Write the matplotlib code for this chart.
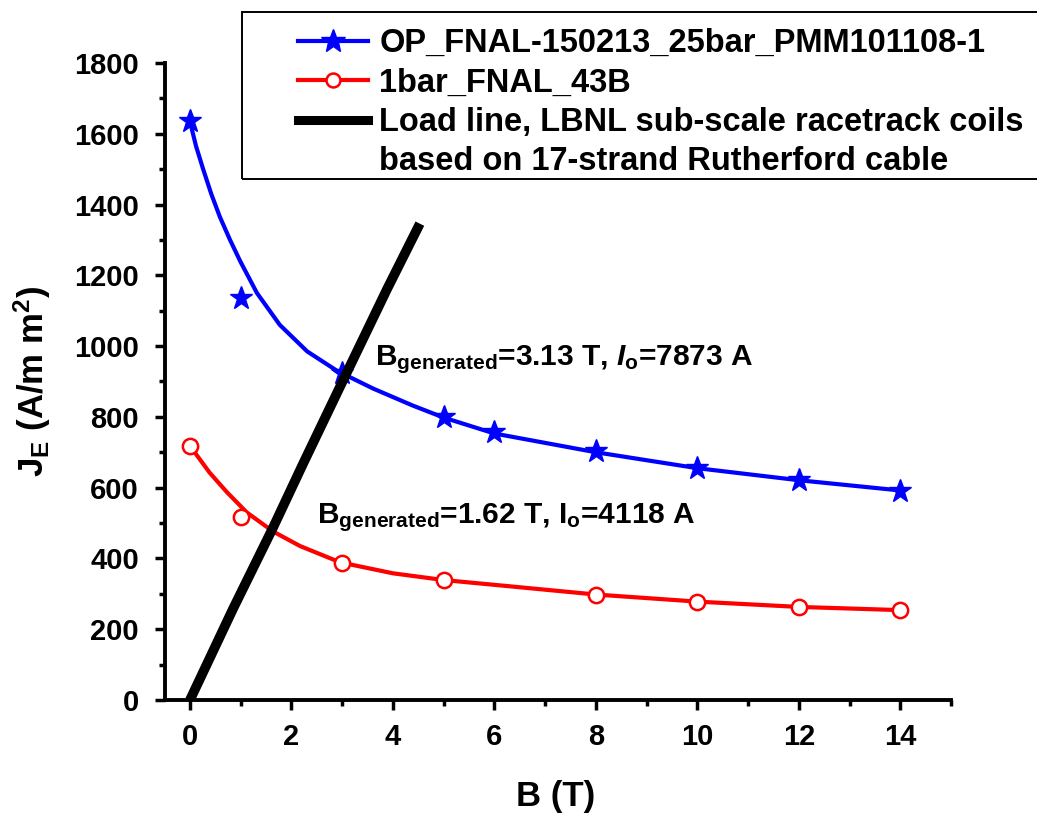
import matplotlib
matplotlib.use('Agg')
import matplotlib.pyplot as plt
from matplotlib.lines import Line2D
from matplotlib.patches import Rectangle
from matplotlib.ticker import MultipleLocator

plt.rcParams['font.family'] = ['Liberation Sans', 'DejaVu Sans']
plt.rcParams['font.weight'] = 'bold'
plt.rcParams['mathtext.fontset'] = 'custom'
plt.rcParams['mathtext.rm'] = 'Liberation Sans:bold'
plt.rcParams['mathtext.bf'] = 'Liberation Sans:bold'
plt.rcParams['mathtext.it'] = 'Liberation Sans:italic:bold'

# measured points (B in T, J_E in A/mm^2)
op_b = [0, 1, 3, 5, 6, 8, 10, 12, 14]
op_j = [1635, 1135, 925, 800, 757, 703, 655, 622, 590]
# fitted curve through the OP sample
op_fit_b = [0, 0.12, 0.26, 0.42, 0.59, 0.79, 0.99, 1.32, 1.77, 2.31, 2.9, 3.61, 4.39, 5, 6, 8, 10, 12, 14]
op_fit_j = [1635, 1565, 1500, 1430, 1365, 1300, 1240, 1150, 1060, 985, 930, 880, 832, 798, 753, 700, 655, 621, 592]

one_b = [0, 1, 3, 5, 8, 10, 12, 14]
one_j = [718, 518, 386, 338, 297, 277, 262, 254]
one_fit_b = [0, 0.39, 0.73, 1.12, 1.64, 2.17, 2.96, 4, 5, 6.25, 8, 10, 12, 14]
one_fit_j = [718, 642, 587, 530, 476, 435, 389, 358, 339, 322, 298, 278, 263, 254]

load_b = [0, 0.85, 1.64, 2.23, 3.09, 3.88, 4.53]
load_j = [0, 258, 488, 668, 925, 1160, 1346]

fig = plt.figure(figsize=(10.37, 8.17), dpi=100)
ax = fig.add_axes([0.1587, 0.1432, 0.7586, 0.7797])

ax.plot(op_fit_b, op_fit_j, color='blue', lw=3, solid_joinstyle='round')
ax.plot(op_b, op_j, ls='none', marker='*', ms=17, color='blue', mec='blue')
ax.plot(one_fit_b, one_fit_j, color='red', lw=3, solid_joinstyle='round')
ax.plot(one_b, one_j, ls='none', marker='o', ms=11, mfc='white', mec='red', mew=1.8)
ax.plot(load_b, load_j, color='black', lw=7, solid_capstyle='butt', solid_joinstyle='round')

ax.set_xlim(-0.5, 15)
ax.set_ylim(0, 1800)
ax.xaxis.set_major_locator(MultipleLocator(2))
ax.xaxis.set_minor_locator(MultipleLocator(1))
ax.yaxis.set_major_locator(MultipleLocator(200))
ax.yaxis.set_minor_locator(MultipleLocator(100))

for s in ['top', 'right']:
    ax.spines[s].set_visible(False)
for s in ['left', 'bottom']:
    ax.spines[s].set_linewidth(2.8)

ax.tick_params(which='major', length=7.5, width=2.5, labelsize=21)
ax.tick_params(which='minor', length=4, width=2.5)
ax.tick_params(axis='x', which='major', pad=9)
ax.tick_params(axis='y', which='major', pad=11)

ax.set_xlabel('B (T)', fontsize=25, fontweight='bold')
ax.set_ylabel(r'J$_{\mathrm{E}}$ (A/m m$^{\mathrm{2}}$)', fontsize=25, fontweight='bold')
ax.xaxis.set_label_coords(0.4976, -0.125)
ax.yaxis.set_label_coords(-0.142, 0.5)

ax.text(3.645, 945, r'B$_{\mathrm{generated}}$=3.13 T, $\mathit{I}_{\mathrm{o}}$=7873 A',
        fontsize=21.5, fontweight='bold', ha='left', va='baseline')
ax.text(2.50, 499, r'B$_{\mathrm{generated}}$=1.62 T, I$_{\mathrm{o}}$=4118 A',
        fontsize=21.5, fontweight='bold', ha='left', va='baseline')

handles = [
    Line2D([], [], color='blue', lw=3, marker='*', ms=18),
    Line2D([], [], color='red', lw=3, marker='o', ms=10, mfc='white', mec='red', mew=1.8),
    Line2D([], [], color='black', lw=6.5),
    Line2D([], [], color='none'),
]
labels = ['OP_FNAL-150213_25bar_PMM101108-1', '1bar_FNAL_43B',
          'Load line, LBNL sub-scale racetrack coils',
          'based on 17-strand Rutherford cable']
fig.legend(handles, labels, loc='upper left', bbox_to_anchor=(298 / 1037, 1 - 28 / 817),
           bbox_transform=fig.transFigure, frameon=False, borderpad=0, borderaxespad=0,
           handlelength=2.15, handletextpad=0.34, labelspacing=0.26,
           prop={'size': 23.5, 'weight': 'bold'})

fig.patches.append(Rectangle((242 / 1037, 1 - 179 / 817), (1060 - 242) / 1037, 167 / 817,
                             transform=fig.transFigure, fill=False, edgecolor='black',
                             lw=1.4))

fig.savefig('out.png', dpi=100)
